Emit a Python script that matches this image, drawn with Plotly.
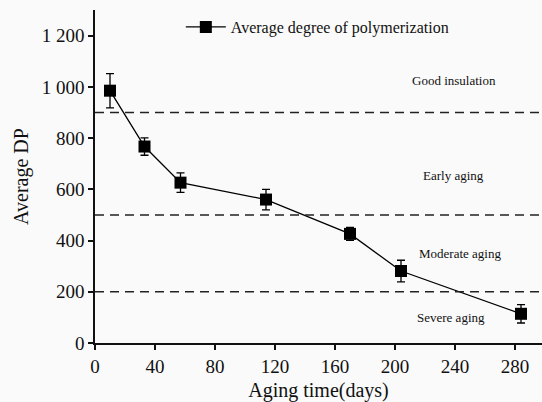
import plotly.graph_objects as go

# Data
days = [10, 33, 57, 114, 170, 204, 284]
avg_dp = [985, 767, 626, 560, 426, 281, 114]
dp_err = [67, 34, 38, 40, 25, 42, 36]

thresholds = [900, 500, 200]
zone_labels = ["Good insulation", "Early aging", "Moderate aging", "Severe aging"]
zone_label_y = [1023, 652, 351, 98]
zone_label_x = [239, 239, 243, 237]

x_ticks = [0, 40, 80, 120, 160, 200, 240, 280]
y_ticks = [0, 200, 400, 600, 800, 1000, 1200]
y_tick_text = ["0", "200", "400", "600", "800", "1 000", "1 200"]

FONT = "Liberation Serif"

fig = go.Figure()
fig.add_trace(go.Scatter(
    x=days, y=avg_dp,
    mode="lines+markers",
    name="Average degree of polymerization",
    line=dict(color="black", width=1.3),
    marker=dict(symbol="square", size=12, color="black"),
    error_y=dict(type="data", array=dp_err, visible=True, color="black",
                 thickness=1.3, width=4),
))

for t in thresholds:
    fig.add_shape(type="line", xref="paper", yref="y", x0=0, x1=1, y0=t, y1=t,
                  line=dict(color="#222222", width=1.5, dash="9px,6px"))

for lbl, lx, ly in zip(zone_labels, zone_label_x, zone_label_y):
    fig.add_annotation(x=lx, y=ly, text=lbl, showarrow=False,
                       font=dict(family=FONT, size=13, color="#111111"))

fig.update_layout(
    width=542, height=402,
    margin=dict(l=95, r=0, t=10, b=59),
    paper_bgcolor="#fafafa", plot_bgcolor="#fafafa",
    font=dict(family=FONT, color="#111111"),
    showlegend=True,
    legend=dict(x=0.192, y=1.0, xanchor="left", yanchor="top", itemwidth=40,
                bgcolor="rgba(0,0,0,0)", font=dict(family=FONT, size=16)),
    xaxis=dict(range=[0, 298], tickvals=x_ticks, showgrid=False, zeroline=False,
               automargin=False,
               showline=True, linecolor="#111111", linewidth=1.5,
               ticks="outside", ticklen=5, tickwidth=1.5, tickcolor="#111111",
               tickfont=dict(family=FONT, size=19),
               title=dict(text="Aging time(days)", font=dict(family=FONT, size=20), standoff=17)),
    yaxis=dict(range=[0, 1300], tickvals=y_ticks, ticktext=y_tick_text,
               showgrid=False, zeroline=False, automargin=False,
               showline=True, linecolor="#111111", linewidth=1.5,
               ticks="outside", ticklen=5, tickwidth=1.5, tickcolor="#111111",
               tickfont=dict(family=FONT, size=19),
               title=dict(text="Average DP", font=dict(family=FONT, size=20), standoff=8)),
)

fig.write_html("out.html")
